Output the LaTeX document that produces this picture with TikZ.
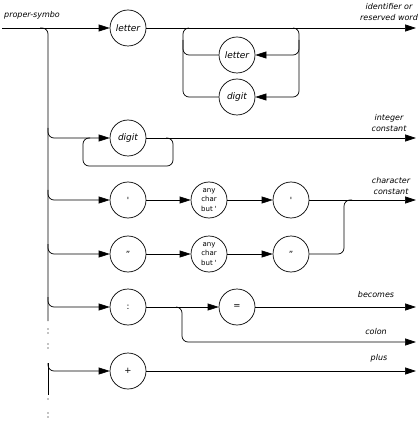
\documentclass[tikz,border=0pt]{standalone}
\usepackage{fontspec}
\setmainfont{DejaVu Sans}
\usetikzlibrary{arrows.meta}
\begin{document}
\begin{tikzpicture}[x=1pt,y=-1pt,
  sym/.style={circle,draw,line width=0.7pt,minimum size=36pt,inner sep=0pt,font=\fontsize{9}{9}\selectfont\itshape},
  symu/.style={sym,font=\fontsize{8.5}{9}\selectfont},
  small/.style={sym,font=\fontsize{7}{9.5}\selectfont,align=center},
  ln/.style={line width=0.7pt},
  rc/.style={ln,rounded corners=6pt},
  arr/.style={-{Triangle[length=11pt,width=7pt]}},
  lab/.style={font=\fontsize{8}{10.5}\selectfont\itshape,align=center,inner sep=0pt}]
\useasboundingbox (0,0) rectangle (417,427);
% nodes
\node[sym] (letter) at (128,28) {letter};
\node[sym] (lloop) at (237,55) {letter};
\node[sym] (dloop) at (237,97) {digit};
\node[sym] (digit) at (128,138) {digit};
\node[symu] (sq1) at (128,200) {\textquotesingle};
\node[small] (any1) at (209,200) {any\\char\\but \textquotesingle};
\node[symu] (sq2) at (291,200) {\textquotesingle};
\node[symu] (dq1) at (128,254) {"};
\node[small] (any2) at (209,254) {any\\char\\but \textquotesingle};
\node[symu] (dq2) at (291,254) {"};
\node[symu] (colon) at (128,307) {:};
\node[symu] (eq) at (237,307) {=};
\node[symu] (plus) at (128,371) {+};
% labels
\node[lab,anchor=west] (title) at (4,15) {proper-symbo};
\node[lab] (l1) at (389,12) {identifier or\\reserved word};
\node[lab] (l2) at (389,123) {integer\\constant};
\node[lab] (l3) at (391,186) {character\\constant};
\node[lab] (l5) at (376,295) {becomes};
\node[lab] (l6) at (376,332) {colon};
\node[lab] (l7) at (379,358) {plus};
% coordinates
\coordinate (in) at (2,28);
\coordinate (e1) at (416,28);
\coordinate (e2) at (416,138);
\coordinate (e3) at (416,200);
\coordinate (e5) at (416,307);
\coordinate (e6) at (416,342);
\coordinate (e7) at (416,371);
\coordinate (v0) at (40,28);
\coordinate (v1) at (48,321);
\coordinate (l1a) at (189,28);
\coordinate (l1b) at (183,28);
\coordinate (l1c) at (183,40);
\coordinate (r1a) at (293,28);
\coordinate (r1b) at (299,97);
\coordinate (r1c) at (299,40);
\coordinate (b2) at (48,128);
\coordinate (l2a) at (166,138);
\coordinate (l2b) at (173,166);
\coordinate (l2c) at (83,138);
\coordinate (l2d) at (90,138);
\coordinate (b3) at (48,190);
\coordinate (b4) at (48,244);
\coordinate (m4) at (344,200);
\coordinate (m4b) at (352,200);
\coordinate (b5) at (48,297);
\coordinate (br5) at (176,307);
\coordinate (br5b) at (182,342);
\coordinate (v6top) at (48,363);
\coordinate (v6bot) at (48,395);
% main line and spine
\draw[ln,arr] (in) -- (letter);
\draw[ln,arr] (letter) -- (e1);
\draw[rc] (v0) -| (v1);
% row 1 loop
\draw[rc] (dloop.west) -| (l1b) -- (l1a);
\draw[rc] (lloop.west) -| (l1c);
\draw[rc,arr] (r1a) -| (r1b) -- (dloop.east);
\draw[rc,arr] (r1c) |- (lloop.east);
% row 2
\draw[rc,arr] (b2) |- (digit.west);
\draw[ln,arr] (digit) -- (e2);
\draw[rc] (l2a) -| (l2b) -| (l2c) -- (l2d);
% row 3
\draw[rc,arr] (b3) |- (sq1.west);
\draw[ln,arr] (sq1) -- (any1);
\draw[ln,arr] (any1) -- (sq2);
\draw[ln,arr] (sq2) -- (e3);
% row 4
\draw[rc,arr] (b4) |- (dq1.west);
\draw[ln,arr] (dq1) -- (any2);
\draw[ln,arr] (any2) -- (dq2);
\draw[rc] (dq2.east) -| (m4) -- (m4b);
% row 5
\draw[rc,arr] (b5) |- (colon.west);
\draw[ln,arr] (colon) -- (eq);
\draw[ln,arr] (eq) -- (e5);
\draw[rc,arr] (br5) -| (br5b) -- (e6);
% row 6
\draw[ln] (v6top) -- (v6bot);
\draw[rc,arr] (v6top) |- (plus.west);
\draw[ln,arr] (plus) -- (e7);
% dots
\foreach \yy in {329,333,344,348,399,413,417}
  \fill (48,\yy) circle (0.6pt);
\end{tikzpicture}
\end{document}
